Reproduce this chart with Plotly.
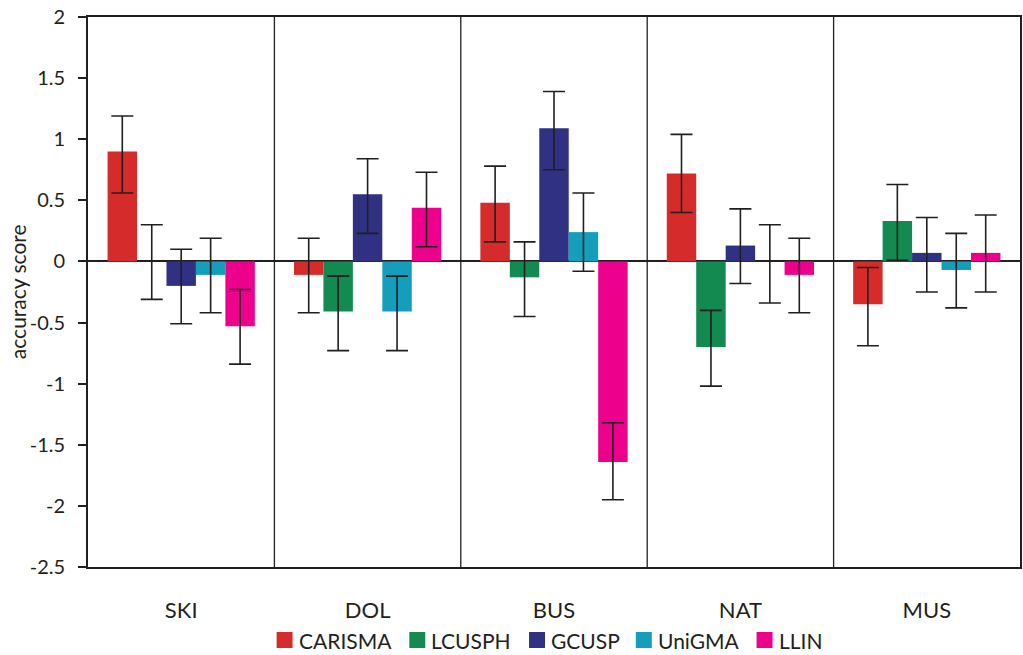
import plotly.graph_objects as go

categories = ["SKI", "DOL", "BUS", "NAT", "MUS"]
series_names = ["CARISMA", "LCUSPH", "GCUSP", "UniGMA", "LLIN"]
colors = ["#D52B2B", "#138A4F", "#313183", "#149EBB", "#EC008C"]

carisma = [0.90, -0.11, 0.48, 0.72, -0.35]
lcusph = [0.00, -0.41, -0.13, -0.70, 0.33]
gcusp = [-0.20, 0.55, 1.09, 0.13, 0.07]
unigma = [-0.11, -0.41, 0.24, 0.00, -0.07]
llin = [-0.53, 0.44, -1.64, -0.11, 0.07]

carisma_err_up = [0.29, 0.30, 0.30, 0.32, 0.30]
carisma_err_down = [0.34, 0.31, 0.32, 0.32, 0.34]
lcusph_err_up = [0.30, 0.29, 0.29, 0.30, 0.30]
lcusph_err_down = [0.31, 0.32, 0.32, 0.32, 0.32]
gcusp_err_up = [0.30, 0.29, 0.30, 0.30, 0.29]
gcusp_err_down = [0.31, 0.32, 0.34, 0.31, 0.32]
unigma_err_up = [0.30, 0.29, 0.32, 0.30, 0.30]
unigma_err_down = [0.31, 0.32, 0.32, 0.34, 0.31]
llin_err_up = [0.30, 0.29, 0.32, 0.30, 0.31]
llin_err_down = [0.31, 0.32, 0.31, 0.31, 0.32]

y_tickvals = [2, 1.5, 1, 0.5, 0, -0.5, -1, -1.5, -2, -2.5]
y_ticktext = ["2", "1.5", "1", "0.5", "0", "-0.5", "-1", "-1.5", "-2", "-2.5"]

values = [carisma, lcusph, gcusp, unigma, llin]
err_up = [carisma_err_up, lcusph_err_up, gcusp_err_up, unigma_err_up, llin_err_up]
err_down = [carisma_err_down, lcusph_err_down, gcusp_err_down, unigma_err_down, llin_err_down]

FONT = "Lato, 'Open Sans', sans-serif"
INK = "#231F20"

W, H = 1023, 655
M_L, M_R, M_T, M_B = 88, 1, 17, 88
PLOT_W = W - M_L - M_R
PLOT_H = H - M_T - M_B


def px_to_paper_x(px):
    return (px - M_L) / PLOT_W


def px_to_paper_y(py):
    return (H - M_B - py) / PLOT_H


fig = go.Figure()
for name, col, vals, up, dn in zip(series_names, colors, values, err_up, err_down):
    fig.add_trace(go.Bar(
        x=categories, y=vals, name=name, showlegend=False,
        marker=dict(color=col, line=dict(width=0)),
        error_y=dict(type="data", symmetric=False, array=up, arrayminus=dn,
                     color=INK, thickness=1.6, width=11),
    ))

# category separators
for i in range(len(categories) - 1):
    fig.add_shape(type="line", xref="x", yref="paper",
                  x0=i + 0.5, x1=i + 0.5, y0=0, y1=1,
                  line=dict(color=INK, width=1.3), layer="above")

# legend row below the category labels
legend_left_px = [277, 410, 530, 637, 758]
legend_mid_px = 640
swatch = 16
for name, col, left in zip(series_names, colors, legend_left_px):
    fig.add_shape(type="rect", xref="paper", yref="paper",
                  x0=px_to_paper_x(left), x1=px_to_paper_x(left + swatch),
                  y0=px_to_paper_y(legend_mid_px + swatch / 2),
                  y1=px_to_paper_y(legend_mid_px - swatch / 2),
                  fillcolor=col, line=dict(width=0))
    fig.add_annotation(text=name, xref="paper", yref="paper",
                       x=px_to_paper_x(left + swatch + 4),
                       y=px_to_paper_y(legend_mid_px),
                       xanchor="left", yanchor="middle", showarrow=False,
                       font=dict(family=FONT, size=21, color=INK))

fig.add_annotation(text="accuracy score", xref="paper", yref="paper",
                   x=px_to_paper_x(17), y=px_to_paper_y(292), textangle=-90,
                   showarrow=False, xanchor="center", yanchor="middle",
                   font=dict(family=FONT, size=21, color=INK))

fig.update_layout(
    width=W, height=H,
    margin=dict(l=M_L, r=M_R, t=M_T, b=M_B),
    paper_bgcolor="white", plot_bgcolor="white",
    barmode="group", bargap=0.21, bargroupgap=0,
    font=dict(family=FONT, size=18, color=INK),
    showlegend=False,
    xaxis=dict(type="category", showgrid=False, showline=True, mirror=True,
               linecolor=INK, linewidth=1.5, ticks="", ticklabelstandoff=23,
               tickfont=dict(family=FONT, size=22, color=INK),
               range=[-0.5, 4.5]),
    yaxis=dict(range=[-2.5, 2], tickvals=y_tickvals, ticktext=y_ticktext,
               showgrid=False, showline=True, mirror=True, linecolor=INK,
               linewidth=1.8, ticks="outside", ticklen=8, tickwidth=1.5,
               tickcolor=INK, zeroline=True, zerolinecolor=INK,
               zerolinewidth=1.5, ticklabelstandoff=9,
               tickfont=dict(family=FONT, size=20, color=INK)),
)

fig.write_html("out.html")
